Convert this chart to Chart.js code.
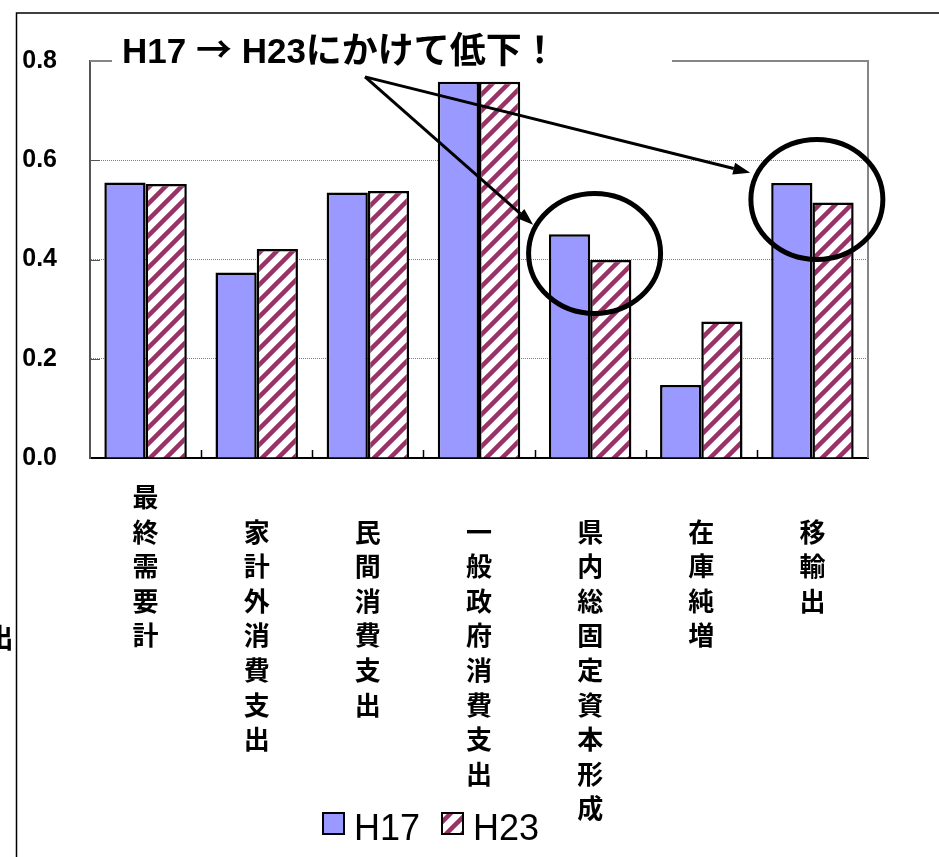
<!DOCTYPE html>
<html lang="ja">
<head>
<meta charset="utf-8">
<title>最終需要項目別 影響力係数 H17 / H23</title>
<script src="https://cdn.jsdelivr.net/npm/chart.js@4.4.0/dist/chart.umd.min.js"></script>
<style>
    html, body { margin: 0; padding: 0; background: #fff; }
    #wrap { width: 939px; height: 857px; position: relative; }
</style>
</head>
<body>
<div id="wrap"><canvas id="chart" width="939" height="857"></canvas></div>
<script>
const categories = ['最終需要計', '家計外消費支出', '民間消費支出', '一般政府消費支出', '県内総固定資本形成', '在庫純増', '移輸出'];
const seriesNames = ['H17', 'H23'];
const h17 = [0.555, 0.374, 0.535, 0.758, 0.451, 0.147, 0.554];
const h23 = [0.552, 0.421, 0.538, 0.758, 0.399, 0.275, 0.515];
const yTicks = [0, 0.2, 0.4, 0.6, 0.8];
// title pieces: latin runs and japanese runs use different fonts
const titleParts = ['H17 ', '→', ' H23', 'にかけて低下！'];

// annotation anchors in data units (category index, value)
const circleCenters = [{ x: 4.04, y: 0.412 }, { x: 6.04, y: 0.521 }];
const arrowFrom = { x: 1.975, y: 0.768 };
const arrowTo = [{ x: 3.487, y: 0.47 }, { x: 5.44, y: 0.575 }];

const BLUE = '#9999ff';
const PLUM = '#993366';
const LATIN_BOLD = 'bold 35px "Liberation Sans"';
const CJK_BOLD = 'bold 36px "Noto Sans CJK JP"';

function makeStripes(color, size, width) {
    const c = document.createElement('canvas');
    c.width = c.height = size;
    const g = c.getContext('2d');
    g.fillStyle = '#fff';
    g.fillRect(0, 0, size, size);
    g.strokeStyle = color;
    g.lineWidth = width;
    g.beginPath();
    for (let k = 0; k <= 2; k++) {
        g.moveTo(-size, k * size + size);
        g.lineTo(2 * size, k * size - 2 * size);
    }
    g.stroke();
    return g.createPattern(c, 'repeat');
}

const stripes = makeStripes(PLUM, 16, 4.5);

function arrow(ctx, x1, y1, x2, y2) {
    const ang = Math.atan2(y2 - y1, x2 - x1);
    const len = 17, half = 6;
    const bx = x2 - len * Math.cos(ang), by = y2 - len * Math.sin(ang);
    ctx.beginPath();
    ctx.moveTo(x1, y1);
    ctx.lineTo(bx, by);
    ctx.stroke();
    ctx.beginPath();
    ctx.moveTo(x2, y2);
    ctx.lineTo(bx + half * Math.sin(ang), by - half * Math.cos(ang));
    ctx.lineTo(bx - half * Math.sin(ang), by + half * Math.cos(ang));
    ctx.closePath();
    ctx.fill();
}

const decorations = {
    id: 'decorations',
    beforeDraw(chart) {
        const ctx = chart.ctx;
        ctx.save();
        ctx.fillStyle = '#fff';
        ctx.fillRect(0, 0, chart.width, chart.height);
        // outer frame
        ctx.strokeStyle = '#000';
        ctx.lineWidth = 1.5;
        ctx.beginPath();
        ctx.moveTo(16.5, chart.height);
        ctx.lineTo(16.5, 13);
        ctx.lineTo(chart.width, 13);
        ctx.stroke();
        // cut-off character at the far left
        ctx.fillStyle = '#000';
        ctx.font = 'bold 27px "Noto Sans CJK JP"';
        ctx.textAlign = 'center';
        ctx.textBaseline = 'middle';
        ctx.fillText('出', 0, 638);
        ctx.restore();
    },
    afterDraw(chart) {
        const ctx = chart.ctx;
        const { left, right, top, bottom } = chart.chartArea;
        const xs = chart.scales.x, ys = chart.scales.y;
        ctx.save();

        // plot frame: top and right, gap for the title box
        ctx.strokeStyle = '#868686';
        ctx.lineWidth = 2;
        ctx.beginPath();
        ctx.moveTo(left, top);
        ctx.lineTo(left + 22, top);
        ctx.moveTo(left + 582, top);
        ctx.lineTo(right, top);
        ctx.lineTo(right, bottom);
        ctx.stroke();

        // inside tick marks
        ctx.strokeStyle = '#000';
        ctx.lineWidth = 1.5;
        ctx.beginPath();
        for (let i = 1; i < categories.length; i++) {
            const px = Math.round(xs.getPixelForValue(i - 0.5)) + 0.5;
            ctx.moveTo(px, bottom);
            ctx.lineTo(px, bottom - 8);
        }
        ctx.stroke();
        ctx.strokeStyle = '#555';
        ctx.lineWidth = 1;
        ctx.beginPath();
        yTicks.slice(1, -1).forEach(v => {
            const py = Math.round(ys.getPixelForValue(v)) + 0.5;
            ctx.moveTo(left, py);
            ctx.lineTo(left + 10, py);
        });
        ctx.stroke();

        // title, drawn run by run
        ctx.fillStyle = '#000';
        ctx.textAlign = 'left';
        ctx.textBaseline = 'alphabetic';
        let tx = left + 32;
        titleParts.forEach((part, i) => {
            ctx.font = (i % 2 === 0 && i < 3) ? LATIN_BOLD : CJK_BOLD;
            ctx.fillText(part, tx, top + 2);
            tx += ctx.measureText(part).width;
        });

        // arrows
        ctx.strokeStyle = '#000';
        ctx.fillStyle = '#000';
        ctx.lineWidth = 3;
        const fx = xs.getPixelForValue(arrowFrom.x), fy = ys.getPixelForValue(arrowFrom.y);
        arrowTo.forEach(p => arrow(ctx, fx, fy, xs.getPixelForValue(p.x), ys.getPixelForValue(p.y)));

        // circles
        ctx.lineWidth = 5;
        circleCenters.forEach(c => {
            ctx.beginPath();
            ctx.ellipse(xs.getPixelForValue(c.x), ys.getPixelForValue(c.y), 66, 60, 0, 0, Math.PI * 2);
            ctx.stroke();
        });

        // legend
        const fills = [BLUE, stripes];
        const lx = [323, 442];
        ctx.font = '36px "Liberation Sans Narrow", "Liberation Sans"';
        ctx.textBaseline = 'alphabetic';
        seriesNames.forEach((name, i) => {
            ctx.fillStyle = fills[i];
            ctx.fillRect(lx[i], 813, 21, 21);
            ctx.strokeStyle = '#000';
            ctx.lineWidth = 2;
            ctx.strokeRect(lx[i], 813, 21, 21);
            ctx.fillStyle = '#000';
            ctx.fillText(name, lx[i] + 31, 840);
        });
        ctx.restore();
    }
};

new Chart(document.getElementById('chart'), {
    type: 'bar',
    data: {
        labels: categories,
        datasets: [
            { label: seriesNames[0], data: h17, backgroundColor: BLUE, borderColor: '#000', borderWidth: 2.5 },
            { label: seriesNames[1], data: h23, backgroundColor: stripes, borderColor: '#000', borderWidth: 2.5 }
        ]
    },
    options: {
        responsive: false,
        animation: false,
        devicePixelRatio: 1,
        layout: { padding: { left: 0, top: 61, right: 71, bottom: 0 } },
        datasets: { bar: { categoryPercentage: 0.742, barPercentage: 1.0 } },
        plugins: { legend: { display: false }, tooltip: { enabled: false } },
        scales: {
            x: {
                afterFit: s => { s.height = 399; },
                grid: { display: false, drawTicks: false },
                border: { display: true, color: '#000', width: 2 },
                ticks: {
                    autoSkip: false,
                    maxRotation: 0,
                    minRotation: 0,
                    padding: 22,
                    color: '#000',
                    font: { family: '"Noto Sans CJK JP"', size: 26, weight: 'bold', lineHeight: 1.33 },
                    callback: function (value, index) {
                        const chars = Array.from(this.getLabelForValue(value));
                        return index === 0 ? chars : [''].concat(chars);
                    }
                }
            },
            y: {
                min: 0,
                max: 0.8,
                afterFit: s => { s.width = 90; },
                afterBuildTicks: s => { s.ticks = yTicks.map(v => ({ value: v })); },
                grid: {
                    drawTicks: false,
                    lineWidth: 1,
                    color: c => (c.tick && c.tick.value > 0 && c.tick.value < 0.8) ? '#808080' : 'rgba(0,0,0,0)'
                },
                border: { display: true, color: '#555', width: 2, dash: [1, 1] },
                ticks: {
                    padding: 33,
                    color: '#000',
                    font: { family: '"Liberation Sans"', size: 25, weight: 'bold' },
                    callback: v => v.toFixed(1)
                }
            }
        }
    },
    plugins: [decorations]
});
</script>
</body>
</html>
